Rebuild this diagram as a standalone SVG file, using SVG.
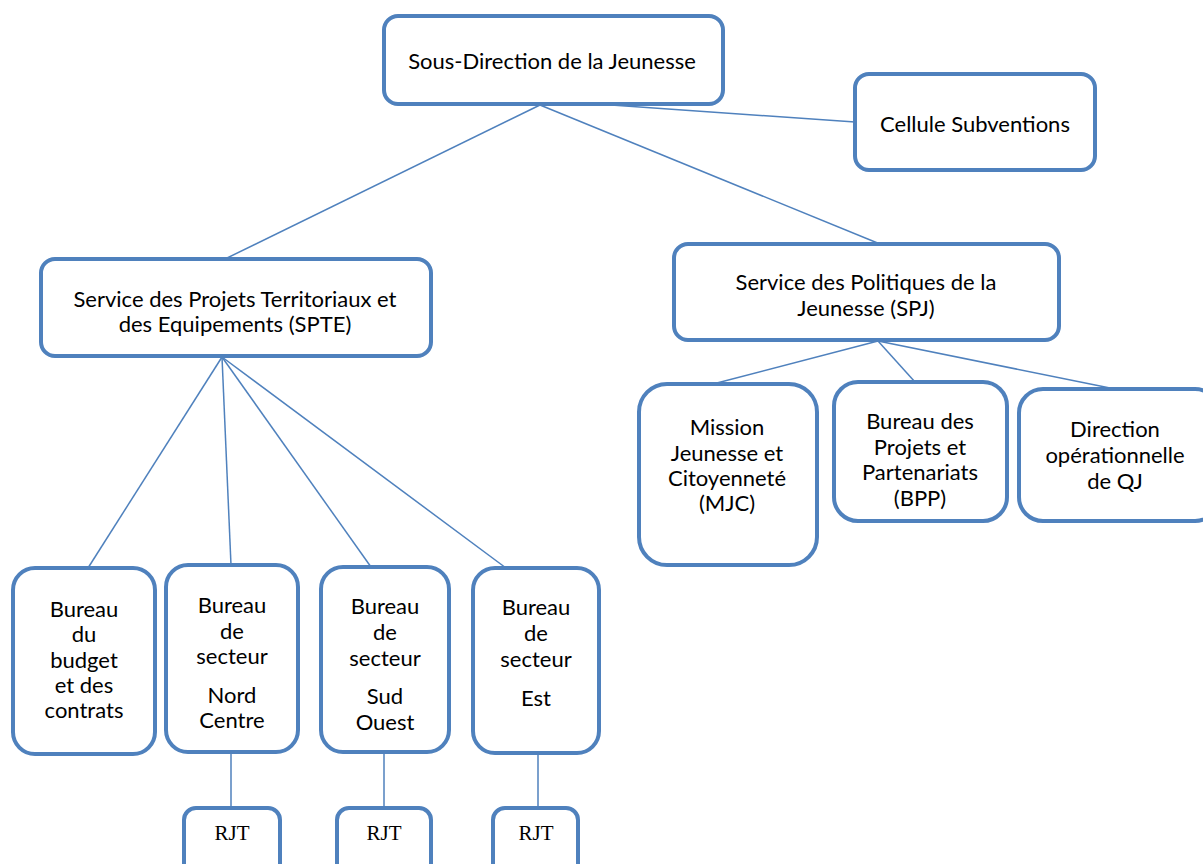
<svg xmlns="http://www.w3.org/2000/svg" width="1203" height="864" viewBox="0 0 1203 864">
<style>
.box{fill:#fff;stroke:#4F81BD;stroke-width:4}
.ln{stroke:#4F81BD;stroke-width:1.5;fill:none}
.t{font-family:Lato,"DejaVu Sans",sans-serif;font-size:22px;fill:#000;text-anchor:middle}
.s{font-family:"Liberation Serif",serif;font-size:21px;fill:#000;text-anchor:middle}
</style>
<rect width="1203" height="864" fill="#fff"/>
<g id="connectors">
<line class="ln" x1="540" y1="100" x2="855" y2="122"/>
<line class="ln" x1="540" y1="105" x2="225" y2="259"/>
<line class="ln" x1="540" y1="105" x2="880" y2="244"/>
<line class="ln" x1="222" y1="357" x2="88" y2="568"/>
<line class="ln" x1="222" y1="357" x2="231" y2="565"/>
<line class="ln" x1="222" y1="357" x2="371" y2="567"/>
<line class="ln" x1="222" y1="357" x2="506" y2="568"/>
<line class="ln" x1="231" y1="752" x2="231" y2="808"/>
<line class="ln" x1="384" y1="752" x2="384" y2="808"/>
<line class="ln" x1="538" y1="753" x2="538" y2="808"/>
<line class="ln" x1="878" y1="341" x2="713" y2="384"/>
<line class="ln" x1="878" y1="341" x2="915" y2="382"/>
<line class="ln" x1="878" y1="341" x2="1110" y2="388"/>
</g>
<g id="n-sdj"><rect class="box" x="384" y="16" width="339" height="88" rx="14"/><text class="t" x="552" y="69">Sous-Direction de la Jeunesse</text></g>
<g id="n-cellule"><rect class="box" x="855" y="74" width="240" height="96" rx="14"/><text class="t" x="975" y="132">Cellule Subventions</text></g>
<g id="n-spte"><rect class="box" x="41" y="259" width="390" height="97" rx="14"/><text class="t" x="235" y="307">Service des Projets Territoriaux et</text><text class="t" x="235" y="332">des Equipements (SPTE)</text></g>
<g id="n-spj"><rect class="box" x="674" y="244" width="385" height="96" rx="14"/><text class="t" x="866" y="290">Service des Politiques de la</text><text class="t" x="866" y="316">Jeunesse (SPJ)</text></g>
<g id="n-budget"><rect class="box" x="13" y="568" width="142" height="186" rx="22"/><text class="t" x="84" y="617">Bureau</text><text class="t" x="84" y="642">du</text><text class="t" x="84" y="668">budget</text><text class="t" x="84" y="693">et des</text><text class="t" x="84" y="718">contrats</text></g>
<g id="n-nord"><rect class="box" x="166" y="565" width="132" height="187" rx="22"/><text class="t" x="232" y="613">Bureau</text><text class="t" x="232" y="639">de</text><text class="t" x="232" y="664">secteur</text><text class="t" x="232" y="703">Nord</text><text class="t" x="232" y="728">Centre</text></g>
<g id="n-sud"><rect class="box" x="321" y="567" width="128" height="185" rx="22"/><text class="t" x="385" y="614">Bureau</text><text class="t" x="385" y="640">de</text><text class="t" x="385" y="666">secteur</text><text class="t" x="385" y="704">Sud</text><text class="t" x="385" y="730">Ouest</text></g>
<g id="n-est"><rect class="box" x="473" y="568" width="126" height="185" rx="22"/><text class="t" x="536" y="615">Bureau</text><text class="t" x="536" y="641">de</text><text class="t" x="536" y="667">secteur</text><text class="t" x="536" y="706">Est</text></g>
<g id="n-rjt1"><rect class="box" x="184" y="808" width="96" height="70" rx="12"/><text class="s" x="232" y="840">RJT</text></g>
<g id="n-rjt2"><rect class="box" x="337" y="808" width="94" height="70" rx="12"/><text class="s" x="384" y="840">RJT</text></g>
<g id="n-rjt3"><rect class="box" x="493" y="808" width="85" height="70" rx="12"/><text class="s" x="536" y="840">RJT</text></g>
<g id="n-mjc"><rect class="box" x="639" y="384" width="178" height="181" rx="28"/><text class="t" x="727" y="435">Mission</text><text class="t" x="727" y="461">Jeunesse et</text><text class="t" x="727" y="486">Citoyenneté</text><text class="t" x="727" y="511">(MJC)</text></g>
<g id="n-bpp"><rect class="box" x="834" y="382" width="173" height="139" rx="24"/><text class="t" x="920" y="429">Bureau des</text><text class="t" x="920" y="455">Projets et</text><text class="t" x="920" y="480">Partenariats</text><text class="t" x="920" y="506">(BPP)</text></g>
<g id="n-dir"><rect class="box" x="1019" y="389" width="200" height="132" rx="24"/><text class="t" x="1115" y="437">Direction</text><text class="t" x="1115" y="463">opérationnelle</text><text class="t" x="1115" y="489">de QJ</text></g>
</svg>
